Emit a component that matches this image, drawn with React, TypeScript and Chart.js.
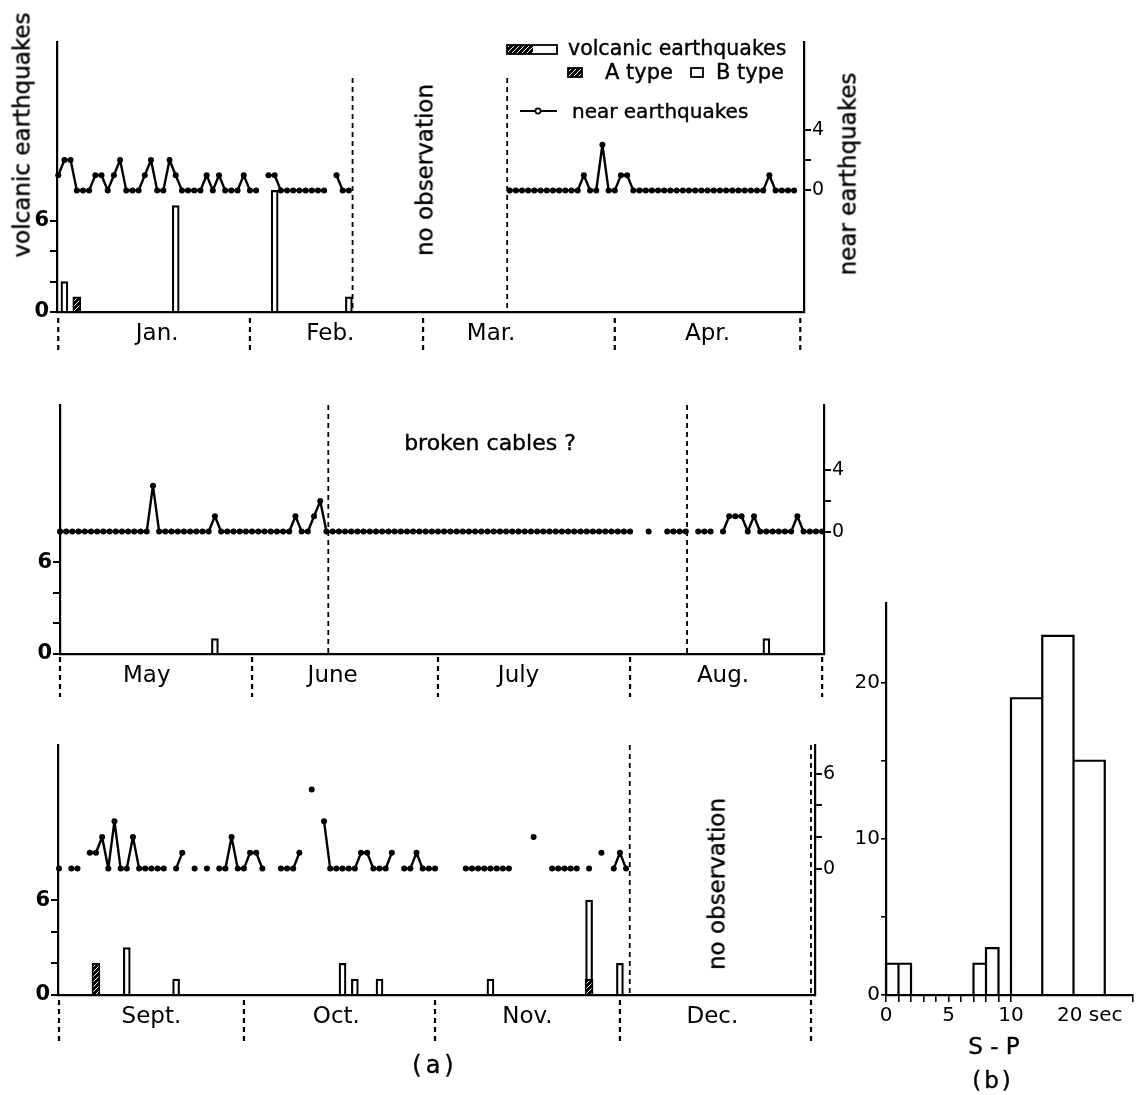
import React, { useEffect, useRef } from 'react';
import { Chart, registerables } from 'chart.js';

Chart.register(...registerables);

const FONT = "'DejaVu Sans', 'Liberation Sans', sans-serif";
const NEAR_OFFSET = 8; // right-axis zero sits at left-axis value 8

// ---------------- Panel 1 : January – April (day 0 = Jan 1) ----------------
const p1Months = ['Jan.', 'Feb.', 'Mar.', 'Apr.'];
const p1MonthStarts = [0, 31, 59, 90, 120];
const p1MonthLabelAt = [16, 44, 70, 105];
const p1Near: (number | null)[] = [
  1, 2, 2, 0, 0, 0, 1, 1, 0, 1,
  2, 0, 0, 0, 1, 2, 0, 0, 2, 1,
  0, 0, 0, 0, 1, 0, 1, 0, 0, 0,
  1, 0, 0, null, 1, 1, 0, 0, 0, 0,
  0, 0, 0, 0, null, 1, 0, 0, null, null,
  null, null, null, null, null, null, null, null, null, null,
  null, null, null, null, null, null, null, null, null, null,
  null, null, null, 0, 0, 0, 0, 0, 0, 0,
  0, 0, 0, 0, 0, 1, 0, 0, 3, 0,
  0, 1, 1, 0, 0, 0, 0, 0, 0, 0,
  0, 0, 0, 0, 0, 0, 0, 0, 0, 0,
  0, 0, 0, 0, 0, 1, 0, 0, 0, 0,
];
const p1ADays = [3];
const p1ACounts = [1];
const p1BDays = [1, 19, 35, 47];
const p1BCounts = [2, 7, 8, 1];
const p1Breaks = [47.6, 72.6];

// ---------------- Panel 2 : May – August (day 0 = May 1) ----------------
const p2Months = ['May', 'June', 'July', 'Aug.'];
const p2MonthStarts = [0, 31, 61, 92, 123];
const p2MonthLabelAt = [14, 44, 74, 107];
const p2Near: (number | null)[] = [
  0, 0, 0, 0, 0, 0, 0, 0, 0, 0,
  0, 0, 0, 0, 0, 3, 0, 0, 0, 0,
  0, 0, 0, 0, 0, 1, 0, 0, 0, 0,
  0, 0, 0, 0, 0, 0, 0, 0, 1, 0,
  0, 1, 2, 0, 0, 0, 0, 0, 0, 0,
  0, 0, 0, 0, 0, 0, 0, 0, 0, 0,
  0, 0, 0, 0, 0, 0, 0, 0, 0, 0,
  0, 0, 0, 0, 0, 0, 0, 0, 0, 0,
  0, 0, 0, 0, 0, 0, 0, 0, 0, 0,
  0, 0, 0, null, null, 0, null, null, 0, 0,
  0, 0, null, 0, 0, 0, null, 0, 1, 1,
  1, 0, 1, 0, 0, 0, 0, 0, 0, 1,
  0, 0, 0, 0,
];
const p2ADays: number[] = [];
const p2ACounts: number[] = [];
const p2BDays = [25, 114];
const p2BCounts = [1, 1];
const p2Breaks = [43.3, 101.2];

// ---------------- Panel 3 : September – December (day 0 = Sept 1) ----------------
const p3Months = ['Sept.', 'Oct.', 'Nov.', 'Dec.'];
const p3MonthStarts = [0, 30, 61, 91, 122];
const p3MonthLabelAt = [15, 45, 76, 106];
const p3Near: (number | null)[] = [
  0, null, 0, 0, null, 1, 1, 2, 0, 3,
  0, 0, 2, 0, 0, 0, 0, 0, null, 0,
  1, null, 0, null, 0, null, 0, 0, 2, 0,
  0, 1, 1, 0, null, null, 0, 0, 0, 1,
  null, 5, null, 3, 0, 0, 0, 0, 0, 1,
  1, 0, 0, 0, 1, null, 0, 0, 1, 0,
  0, 0, null, null, null, null, 0, 0, 0, 0,
  0, 0, 0, 0, null, null, null, 2, null, null,
  0, 0, 0, 0, 0, null, 0, null, 1, null,
  0, 1, 0,
];
const p3ADays = [6, 86];
const p3ACounts = [2, 1];
const p3BDays = [11, 19, 46, 48, 52, 70, 86, 91];
const p3BCounts = [3, 1, 2, 1, 1, 1, 5, 2];
const p3Breaks = [92.6, 122];

// ---------------- Histogram (b) : S-P times ----------------
const spBinStart = [0, 1, 7, 8, 10, 15, 20];
const spBinEnd = [1, 2, 8, 9, 15, 20, 25];
const spCounts = [2, 2, 2, 3, 19, 23, 15];
const spMinorTicks = [0, 1, 2, 3, 4, 5, 6, 7, 8, 9, 10];
const spLabelled = [0, 5, 10];
const spYTicks = [0, 5, 10, 15, 20];
const spYLabelled = [0, 10, 20];
const SP_UNIT_LABEL = '20 sec';
const SP_UNIT_LABEL_AT = 16.3;
const SP_X_MAX = 19.76;
const SP_Y_MAX = 25.1;
// the axis is compressed by half beyond 10 s, as in the original
const spAxis = (sec: number) => (sec <= 10 ? sec : 10 + (sec - 10) / 2);

type PanelSpec = {
  months: string[];
  monthStarts: number[];
  monthLabelAt: number[];
  near: (number | null)[];
  aDays: number[];
  aCounts: number[];
  bDays: number[];
  bCounts: number[];
  breaks: number[];
  breakTop?: number;
  rightTicks: number[];
  rightLabels: number[];
  width: number;
  height: number;
  area: { left: number; right: number; top: number; bottom: number };
  xMin: number;
  xMax: number;
  yMax: number;
  sep: [number, number];
  dashedRight?: boolean;
  legend?: boolean;
};

function makeHatch(): CanvasPattern {
  const c = document.createElement('canvas');
  c.width = 5;
  c.height = 5;
  const g = c.getContext('2d')!;
  g.fillStyle = '#000';
  g.fillRect(0, 0, 5, 5);
  g.strokeStyle = '#fff';
  g.lineWidth = 1;
  g.beginPath();
  g.moveTo(0, 5);
  g.lineTo(5, 0);
  g.moveTo(-1, 1);
  g.lineTo(1, -1);
  g.moveTo(4, 6);
  g.lineTo(6, 4);
  g.stroke();
  return g.createPattern(c, 'repeat')!;
}

function drawLegend(ctx: CanvasRenderingContext2D, hatch: CanvasPattern) {
  ctx.save();
  ctx.setLineDash([]);
  ctx.strokeStyle = '#000';
  ctx.lineWidth = 1.8;
  ctx.fillStyle = hatch;
  ctx.fillRect(507, 45, 26, 9);
  ctx.fillStyle = '#fff';
  ctx.fillRect(533, 45, 24, 9);
  ctx.strokeRect(507, 45, 50, 9);
  ctx.fillStyle = hatch;
  ctx.fillRect(568, 68, 14, 9);
  ctx.strokeRect(568, 68, 14, 9);
  ctx.fillStyle = '#fff';
  ctx.fillRect(691, 68, 12, 9);
  ctx.strokeRect(691, 68, 12, 9);
  ctx.lineWidth = 2.2;
  ctx.beginPath();
  ctx.moveTo(520, 111);
  ctx.lineTo(557, 111);
  ctx.stroke();
  ctx.beginPath();
  ctx.arc(538, 111, 2.6, 0, Math.PI * 2);
  ctx.fillStyle = '#fff';
  ctx.fill();
  ctx.lineWidth = 1.6;
  ctx.stroke();
  ctx.restore();
}

function buildPanel(s: PanelSpec, hatch: CanvasPattern): any {
  const A = s.area;
  const deco = {
    id: 'deco',
    afterDraw(chart: any) {
      const { ctx } = chart;
      const x = chart.scales.x;
      const y = chart.scales.y;
      const base = chart.chartArea.bottom;
      ctx.save();
      ctx.strokeStyle = '#000';
      ctx.lineWidth = 2.2;
      ctx.setLineDash([5, 4]);
      s.monthStarts.forEach((d) => {
        const px = x.getPixelForValue(d);
        ctx.beginPath();
        ctx.moveTo(px, base + s.sep[0]);
        ctx.lineTo(px, base + s.sep[1]);
        ctx.stroke();
      });
      ctx.lineWidth = 1.8;
      s.breaks.forEach((d) => {
        const px = x.getPixelForValue(d);
        ctx.beginPath();
        ctx.moveTo(px, y.getPixelForValue(s.breakTop ?? s.yMax));
        ctx.lineTo(px, y.getPixelForValue(0));
        ctx.stroke();
      });
      ctx.restore();
      if (s.legend) drawLegend(ctx, hatch);
    },
  };
  const yTickGrid = {
    display: true,
    drawOnChartArea: false,
    drawTicks: true,
    tickLength: 7,
    color: '#000',
    lineWidth: 2,
  };
  return {
    type: 'bar',
    data: {
      datasets: [
        {
          type: 'line',
          label: 'near earthquakes',
          data: s.near.map((v, i) => ({ x: i, y: v })),
          xAxisID: 'x',
          yAxisID: 'yR',
          borderColor: '#000',
          borderWidth: 2.4,
          borderJoinStyle: 'round',
          pointRadius: 3,
          pointBackgroundColor: '#000',
          pointBorderColor: '#000',
          pointBorderWidth: 0,
          spanGaps: false,
          tension: 0,
          clip: false,
        },
        {
          type: 'bar',
          label: 'A type',
          data: s.aDays.map((d, i) => ({ x: d, y: s.aCounts[i] })),
          xAxisID: 'x',
          yAxisID: 'y',
          stack: 'v',
          backgroundColor: hatch,
          borderColor: '#000',
          borderWidth: 1.8,
          barThickness: 8,
        },
        {
          type: 'bar',
          label: 'B type',
          data: s.bDays.map((d, i) => ({ x: d, y: s.bCounts[i] })),
          xAxisID: 'x',
          yAxisID: 'y',
          stack: 'v',
          backgroundColor: '#fff',
          borderColor: '#000',
          borderWidth: 2.2,
          barThickness: 7,
        },
      ],
    },
    options: {
      responsive: false,
      maintainAspectRatio: false,
      animation: false,
      devicePixelRatio: 1,
      events: [],
      layout: { padding: { top: A.top, left: 0, right: 0, bottom: 0 } },
      plugins: { legend: { display: false }, tooltip: { enabled: false } },
      scales: {
        x: {
          type: 'linear',
          min: s.xMin,
          max: s.xMax,
          offset: false,
          grid: { display: false, drawTicks: false, offset: false },
          border: { display: true, color: '#000', width: 2.2 },
          afterBuildTicks: (sc: any) => {
            sc.ticks = s.monthLabelAt.map((v) => ({ value: v }));
          },
          afterFit: (sc: any) => {
            sc.height = s.height - A.bottom;
          },
          ticks: {
            autoSkip: false,
            maxRotation: 0,
            minRotation: 0,
            padding: 8,
            color: '#000',
            font: { family: FONT, size: 23 },
            callback: (_v: any, i: number) => s.months[i],
          },
        },
        y: {
          type: 'linear',
          position: 'left',
          min: 0,
          max: s.yMax,
          stacked: true,
          grid: yTickGrid,
          border: { display: true, color: '#000', width: 2.2 },
          afterBuildTicks: (sc: any) => {
            sc.ticks = [0, 2, 4, 6].map((v) => ({ value: v }));
          },
          afterFit: (sc: any) => {
            sc.width = A.left;
          },
          ticks: {
            padding: 1,
            color: '#000',
            font: { family: FONT, size: 21, weight: 'bold' },
            callback: (v: any) => (v === 0 || v === 6 ? String(v) : ''),
          },
        },
        yR: {
          type: 'linear',
          position: 'right',
          min: -NEAR_OFFSET,
          max: s.yMax - NEAR_OFFSET,
          grid: yTickGrid,
          border: { display: true, color: '#000', width: 2.2, dash: s.dashedRight ? [5, 3] : [] },
          afterBuildTicks: (sc: any) => {
            sc.ticks = s.rightTicks.map((v) => ({ value: v }));
          },
          afterFit: (sc: any) => {
            sc.width = s.width - A.right;
          },
          ticks: {
            padding: 1,
            color: '#000',
            font: { family: FONT, size: 19 },
            callback: (v: any) => (s.rightLabels.includes(v) ? String(v) : ''),
          },
        },
      },
    },
    plugins: [deco],
  };
}

function buildHist(): any {
  const outline = spBinStart.flatMap((sec, i) => {
    const a = spAxis(sec);
    const b = spAxis(spBinEnd[i]);
    const h = spCounts[i];
    return [
      { x: a, y: 0 },
      { x: a, y: h },
      { x: b, y: h },
      { x: b, y: 0 },
      { x: b, y: null },
    ];
  });
  return {
    type: 'line',
    data: {
      datasets: [
        {
          label: 'S-P',
          data: outline,
          borderColor: '#000',
          borderWidth: 2.2,
          pointRadius: 0,
          spanGaps: false,
          tension: 0,
          clip: false,
        },
      ],
    },
    options: {
      responsive: false,
      maintainAspectRatio: false,
      animation: false,
      devicePixelRatio: 1,
      events: [],
      layout: { padding: { top: 13, right: 13, left: 0, bottom: 0 } },
      plugins: { legend: { display: false }, tooltip: { enabled: false } },
      scales: {
        x: {
          type: 'linear',
          min: 0,
          max: SP_X_MAX,
          grid: {
            display: true,
            drawOnChartArea: false,
            drawTicks: true,
            tickLength: 7,
            lineWidth: 1.6,
            color: (c: any) => (c.tick && c.tick.value === SP_UNIT_LABEL_AT ? 'rgba(0,0,0,0)' : '#000'),
          },
          border: { display: true, color: '#000', width: 2.2 },
          afterBuildTicks: (sc: any) => {
            sc.ticks = [...spMinorTicks, SP_UNIT_LABEL_AT, SP_X_MAX].map((v) => ({ value: v }));
          },
          afterFit: (sc: any) => {
            sc.height = 35;
          },
          ticks: {
            autoSkip: false,
            maxRotation: 0,
            minRotation: 0,
            padding: 2,
            color: '#000',
            font: { family: FONT, size: 20 },
            callback: (v: any) =>
              v === SP_UNIT_LABEL_AT ? SP_UNIT_LABEL : spLabelled.includes(v) ? String(v) : '',
          },
        },
        y: {
          type: 'linear',
          min: 0,
          max: SP_Y_MAX,
          grid: {
            display: true,
            drawOnChartArea: false,
            drawTicks: true,
            tickLength: 5,
            lineWidth: 1.6,
            color: '#000',
          },
          border: { display: true, color: '#000', width: 2.2 },
          afterBuildTicks: (sc: any) => {
            sc.ticks = spYTicks.map((v) => ({ value: v }));
          },
          afterFit: (sc: any) => {
            sc.width = 46;
          },
          ticks: {
            padding: 1,
            color: '#000',
            font: { family: FONT, size: 20 },
            callback: (v: any) => (spYLabelled.includes(v) ? String(v) : ''),
          },
        },
      },
    },
  };
}

const panel1: PanelSpec = {
  months: p1Months, monthStarts: p1MonthStarts, monthLabelAt: p1MonthLabelAt, near: p1Near,
  aDays: p1ADays, aCounts: p1ACounts, bDays: p1BDays, bCounts: p1BCounts,
  breaks: p1Breaks, breakTop: 15.4, rightTicks: [0, 2, 4], rightLabels: [0, 4],
  width: 880, height: 360, area: { left: 57, right: 804, top: 42, bottom: 312 },
  xMin: -0.2, xMax: 120.6, yMax: 17.76, sep: [6, 38], legend: true,
};
const panel2: PanelSpec = {
  months: p2Months, monthStarts: p2MonthStarts, monthLabelAt: p2MonthLabelAt, near: p2Near,
  aDays: p2ADays, aCounts: p2ACounts, bDays: p2BDays, bCounts: p2BCounts,
  breaks: p2Breaks, rightTicks: [0, 2, 4], rightLabels: [0, 4],
  width: 860, height: 360, area: { left: 60, right: 824, top: 45, bottom: 294 },
  xMin: 0, xMax: 123.3, yMax: 16.27, sep: [3, 43],
};
const panel3: PanelSpec = {
  months: p3Months, monthStarts: p3MonthStarts, monthLabelAt: p3MonthLabelAt, near: p3Near,
  aDays: p3ADays, aCounts: p3ACounts, bDays: p3BDays, bCounts: p3BCounts,
  breaks: p3Breaks, rightTicks: [0, 2, 4, 6], rightLabels: [0, 6],
  width: 860, height: 340, area: { left: 58, right: 815, top: 25, bottom: 275 },
  xMin: -0.16, xMax: 122.65, yMax: 15.82, sep: [5, 47], dashedRight: true,
};

function ChartCanvas(props: { left: number; top: number; width: number; height: number; build: (h: CanvasPattern) => any }) {
  const ref = useRef<HTMLCanvasElement>(null);
  useEffect(() => {
    const hatch = makeHatch();
    const chart = new Chart(ref.current!, props.build(hatch));
    return () => chart.destroy();
  }, []);
  return (
    <canvas
      ref={ref}
      width={props.width}
      height={props.height}
      style={{ position: 'absolute', left: props.left, top: props.top, width: props.width, height: props.height }}
    />
  );
}

function Label(props: { x: number; y: number; text: string; size: number; rotate?: boolean; anchor?: 'left' | 'center'; spacing?: number }) {
  const { x, y, text, size, rotate, anchor = 'center', spacing } = props;
  const transform = rotate
    ? 'translate(-50%, -50%) rotate(-90deg)'
    : anchor === 'left'
    ? 'translate(0, -50%)'
    : 'translate(-50%, -50%)';
  return (
    <div
      style={{
        position: 'absolute',
        left: x,
        top: y,
        transform,
        fontFamily: FONT,
        fontSize: size,
        lineHeight: 1,
        whiteSpace: 'pre',
        color: '#000',
        letterSpacing: spacing ?? 0,
        WebkitTextStroke: '0.4px #000',
      }}
    >
      {text}
    </div>
  );
}

export default function App() {
  return (
    <div style={{ position: 'absolute', left: 0, top: 0, width: 1146, height: 1095, background: '#fff', overflow: 'hidden' }}>
      <ChartCanvas left={0} top={0} width={panel1.width} height={panel1.height} build={(h) => buildPanel(panel1, h)} />
      <ChartCanvas left={0} top={360} width={panel2.width} height={panel2.height} build={(h) => buildPanel(panel2, h)} />
      <ChartCanvas left={0} top={720} width={panel3.width} height={panel3.height} build={(h) => buildPanel(panel3, h)} />
      <ChartCanvas left={840} top={590} width={306} height={440} build={() => buildHist()} />

      <Label x={22} y={135} text="volcanic earthquakes" size={23} rotate />
      <Label x={848} y={174} text="near earthquakes" size={23} rotate />
      <Label x={425} y={170} text="no observation" size={23} rotate />
      <Label x={568} y={48} text="volcanic earthquakes" size={20.5} anchor="left" />
      <Label x={605} y={72} text="A type" size={21} anchor="left" />
      <Label x={716} y={72} text="B type" size={21} anchor="left" />
      <Label x={572} y={111} text="near earthquakes" size={20} anchor="left" />
      <Label x={490} y={443} text="broken cables ?" size={22} />
      <Label x={717} y={884} text="no observation" size={23} rotate />
      <Label x={435} y={1065} text="(a)" size={24} spacing={4} />
      <Label x={994} y={1046} text="S - P" size={23} />
      <Label x={993} y={1080} text="(b)" size={23} spacing={3} />
    </div>
  );
}
